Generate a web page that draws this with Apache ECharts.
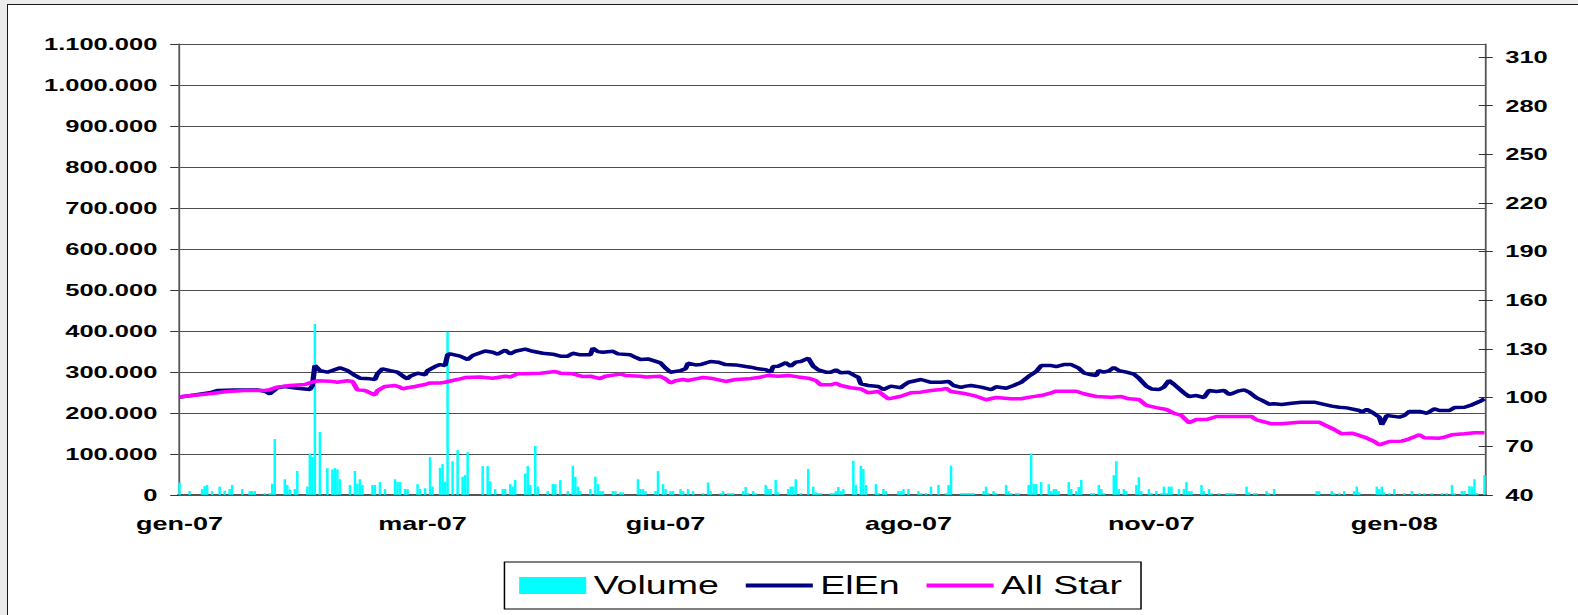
<!DOCTYPE html>
<html>
<head>
<meta charset="utf-8">
<title>ElEn - Volume</title>
<script src="https://cdn.jsdelivr.net/npm/echarts@6/dist/echarts.min.js"></script>
<style>
  html, body { margin: 0; padding: 0; width: 1578px; height: 615px; overflow: hidden; background: #ececec; }
  #frame { position: absolute; left: 7px; top: 4px; width: 1600px; height: 640px; background: #fff; border: 1px solid #1a1a1a; }
  /* the original picture is stretched sideways, so the chart is drawn narrow and widened */
  #main { position: absolute; left: 0; top: 0; width: 1052px; height: 615px; transform: scaleX(1.5); transform-origin: 0 0; }
</style>
</head>
<body>
<div id="frame"></div>
<div id="main"></div>
<script>
// x axis: trading days, a label every 97 days
const tickLabels = ['gen-07', 'mar-07', 'giu-07', 'ago-07', 'nov-07', 'gen-08'];
const dayCount = 522;
const labelStep = 97;

// right axis ticks
const rightTicks = [40, 70, 100, 130, 160, 190, 220, 250, 280, 310];

// Volume (left axis), day index -> value
const volumeDays = [0,4,9,10,11,13,16,18,20,21,25,28,29,30,34,36,37,38,42,43,44,46,47,51,52,53,54,56,59,61,62,63,64,68,70,71,72,73,77,78,80,82,86,87,88,90,91,95,96,98,100,101,
  104,105,106,107,109,111,113,114,115,121,123,124,126,129,130,132,133,134,138,139,140,142,143,147,149,150,152,155,157,158,159,160,164,166,167,168,169,173,174,176,177,183,184,185,186,190,191,193,194,196,197,200,201,203,205,209,
  211,212,216,217,219,220,221,225,226,227,229,230,234,235,236,238,239,243,244,245,246,248,251,253,254,255,256,260,261,262,263,264,265,269,270,272,273,274,278,279,281,282,287,288,289,291,295,296,298,300,303,306,307,308,312,
  313,314,315,316,317,321,322,323,325,326,330,331,332,334,335,339,340,341,342,344,347,348,349,350,351,355,356,358,359,360,364,365,367,368,369,373,374,375,377,378,382,383,384,387,388,390,392,393,394,395,396,399,401,402,403,404,408,409,411,412,415,418,
  419,420,421,426,427,429,430,434,435,437,454,455,460,461,463,465,469,470,471,478,479,480,481,483,485,489,492,495,497,500,504,506,508,509,512,513,515,516,517,518,521];
const volume = [30000,9000,14000,21000,24000,9000,20000,10000,14000,24000,14000,9000,9000,9000,4000,4000,27000,136000,38000,24000,13000,14000,58000,20000,101000,93000,417000,153000,65000,62000,65000,62000,38000,24000,58000,27000,38000,24000,24000,24000,31000,14000,38000,31000,31000,14000,14000,26000,14000,16000,92000,20000,
  66000,75000,32000,398000,82000,109000,44000,48000,104000,70000,70000,33000,14000,14000,14000,26000,20000,36000,52000,70000,24000,119000,20000,9000,26000,26000,36000,9000,71000,44000,20000,9000,14000,44000,26000,9000,9000,9000,9000,6000,6000,38000,14000,14000,9000,9000,58000,26000,14000,9000,9000,14000,9000,14000,9000,4000,
  30000,9000,4000,9000,4000,4000,4000,9000,19000,4000,9000,4000,24000,14000,14000,36000,6000,14000,20000,20000,38000,4000,63000,20000,6000,4000,4000,4000,4000,9000,19000,9000,14000,83000,24000,71000,63000,24000,26000,4000,14000,9000,9000,9000,14000,14000,9000,4000,4000,20000,24000,4000,24000,71000,4000,
  4000,4000,4000,4000,4000,9000,20000,4000,9000,4000,24000,9000,4000,4000,4000,24000,101000,26000,26000,31000,26000,9000,14000,14000,9000,31000,14000,9000,19000,36000,4000,4000,24000,14000,4000,48000,82000,14000,14000,9000,24000,43000,9000,14000,4000,9000,4000,20000,4000,20000,20000,14000,14000,31000,9000,9000,24000,9000,14000,4000,4000,4000,
  4000,4000,4000,20000,6000,4000,4000,9000,4000,14000,9000,9000,9000,4000,4000,9000,9000,20000,6000,20000,14000,20000,6000,4000,14000,4000,9000,4000,4000,4000,4000,4000,24000,4000,9000,9000,21000,20000,38000,4000,48000];

// ElEn (right axis)
const eienDays = [0,1,6,12,15,22,31,34,36,39,42,47,52,53,54,56,59,64,67,70,72,76,78,79,81,84,87,90,91,92,95,98,99,102,104,106,107,108,112,115,
  117,122,125,127,130,132,134,138,141,145,149,152,155,157,160,164,165,167,169,173,175,180,182,184,187,192,194,196,200,202,203,206,208,212,215,218,222,226,228,231,
  234,236,237,239,242,244,246,248,251,253,255,258,260,262,264,267,270,271,272,275,279,281,284,288,289,291,296,300,304,307,309,312,314,316,320,324,326,330,333,336,
  339,342,344,348,350,353,356,359,361,364,366,367,369,371,373,375,378,381,383,386,388,391,393,395,397,401,403,406,409,411,414,417,419,420,423,425,427,430,432,435,
  437,440,444,448,453,456,460,463,466,471,472,474,476,479,480,482,484,487,489,491,495,498,501,503,507,509,513,516,519,521];
const eien = [100.0,100.5,101.5,102.9,104.3,104.7,104.7,103.9,102.3,106.0,106.8,105.7,104.9,107.4,119.7,116.6,115.6,118.3,116.6,113.6,111.9,111.5,111.1,114.6,117.7,116.6,115.6,112.3,111.5,113.1,115.0,114.0,116.6,119.1,120.3,119.7,126.3,126.9,125.5,123.4,
  125.9,128.7,127.9,126.7,129.2,126.9,128.5,129.8,128.5,127.3,126.7,125.5,125.5,127.3,126.3,126.3,130.4,128.3,127.9,128.5,126.9,126.3,124.8,123.4,123.8,121.4,118.1,115.6,116.6,117.7,121.1,120.1,120.3,122.2,121.8,120.3,120.1,119.1,118.7,117.7,
  117.2,115.6,119.1,119.3,121.4,119.3,121.8,122.2,124.2,119.3,117.0,115.6,115.6,117.0,115.2,115.6,113.1,112.5,108.4,107.4,106.8,104.9,107.0,106.0,107.4,109.4,111.1,109.4,109.4,109.9,107.4,106.2,107.0,107.4,106.4,104.9,106.6,105.7,107.4,109.4,
  113.1,116.0,119.7,119.7,119.1,120.3,120.3,118.1,115.2,114.0,113.6,116.6,115.6,116.4,118.5,116.6,115.6,114.4,111.9,107.0,105.3,104.9,106.4,110.5,108.2,102.9,100.6,101.2,100.0,104.3,103.7,104.3,102.0,102.3,104.1,104.7,103.3,99.8,98.4,95.9,
  96.1,95.7,96.5,97.1,97.1,96.1,94.7,94.0,93.6,92.0,91.0,92.6,91.0,87.9,83.2,88.9,88.5,87.9,88.9,91.4,91.4,90.3,93.0,92.0,92.0,93.8,94.0,95.5,97.5,99.2];

// All Star (right axis)
const starDays = [0,1,12,19,26,34,36,39,44,50,52,55,60,63,67,69,71,74,76,78,79,82,86,88,89,91,94,98,100,104,
  106,109,112,114,120,125,130,132,135,138,144,150,152,157,161,164,168,170,176,178,184,186,192,194,196,198,201,203,206,209,
  212,218,222,227,231,235,239,243,247,251,254,256,260,262,264,268,272,275,279,283,288,292,296,300,304,306,308,314,318,322,
  326,332,336,340,344,348,350,358,361,366,372,376,379,383,386,390,394,397,400,403,406,410,414,419,428,430,436,440,447,455,
  457,461,464,468,471,473,477,479,483,488,491,495,497,503,505,508,513,517,521];
const allStar = [100.0,100.6,102.3,103.7,104.3,104.3,104.9,106.4,107.4,108.0,109.0,110.3,110.1,109.4,110.3,109.9,104.7,104.3,102.9,101.6,104.3,106.8,107.4,106.4,105.3,106.0,106.8,108.0,109.0,109.0,
  109.4,110.5,111.5,112.3,112.7,111.9,113.1,112.7,114.6,114.6,115.0,116.0,115.0,114.6,112.9,113.1,111.7,113.1,114.4,113.6,113.1,112.7,113.1,111.5,109.0,110.3,111.1,110.5,111.5,112.3,
  111.9,109.9,111.1,111.5,112.3,113.6,113.1,113.6,112.7,111.9,110.5,107.8,107.8,108.8,107.4,106.0,105.3,102.9,103.7,99.2,100.8,102.9,103.3,104.3,104.9,105.7,103.7,102.3,100.8,98.6,
  100.0,99.2,99.2,100.4,101.2,102.9,103.9,103.9,102.3,100.6,100.2,100.6,99.2,98.8,95.1,93.8,92.6,90.3,88.9,84.4,86.4,86.4,88.3,88.3,88.3,86.2,83.8,83.8,84.8,84.8,
  83.2,80.3,77.6,78.0,76.6,75.6,72.9,70.8,72.9,73.1,74.5,77.0,75.2,74.9,75.6,77.0,77.6,78.2,78.2];

const categories = Array.from({ length: dayCount }, (_, i) => (i % labelStep === 0 ? tickLabels[i / labelStep] : ''));

function itNumber(v) {
  return String(v).replace(/\B(?=(\d{3})+(?!\d))/g, '.');
}

const labelFont = { fontFamily: 'Liberation Sans', fontWeight: 'bold', fontSize: 17, color: '#000' };

const chart = echarts.init(document.getElementById('main'), null, { renderer: 'svg' });

const option = {
  animation: false,
  grid: { left: 118.9, right: 61.5, top: 44, bottom: 120.2 },
  legend: {
    left: 336.3,
    top: 562,
    orient: 'horizontal',
    padding: [11, 12.7, 11, 9.8],
    borderColor: '#000',
    borderWidth: 1,
    itemWidth: 44.7,
    itemHeight: 17,
    itemGap: 18,
    selectedMode: false,
    textStyle: { fontFamily: 'Liberation Sans', fontSize: 25, color: '#000' },
    data: [
      { name: 'Volume', icon: 'rect' },
      { name: 'ElEn', icon: 'path://M0,0H45V4H0Z' },
      { name: 'All Star', icon: 'path://M0,0H45V4H0Z' }
    ]
  },
  xAxis: {
    type: 'category',
    data: categories,
    boundaryGap: true,
    axisLine: { lineStyle: { color: '#555', width: 2 } },
    axisTick: { interval: labelStep - 1, length: 5, lineStyle: { color: '#222', width: 1 } },
    axisLabel: Object.assign({ interval: labelStep - 1, margin: 20, showMinLabel: true }, labelFont, { fontSize: 18 }),
    splitLine: { show: false }
  },
  yAxis: [
    {
      type: 'value',
      position: 'left',
      min: 0,
      max: 1100000,
      interval: 100000,
      axisLine: { show: true, lineStyle: { color: '#555', width: 1.2 } },
      axisTick: { show: true, length: 5.4, lineStyle: { color: '#333' } },
      axisLabel: Object.assign({ margin: 14, formatter: itNumber }, labelFont),
      splitLine: { show: true, lineStyle: { color: '#4d4d4d', width: 1 } }
    },
    {
      type: 'value',
      position: 'right',
      min: 40,
      max: 318,
      axisLine: { show: true, lineStyle: { color: '#555', width: 1.2 } },
      axisTick: { show: true, length: 4.7, customValues: rightTicks, lineStyle: { color: '#333' } },
      axisLabel: Object.assign({ margin: 13, customValues: rightTicks }, labelFont),
      splitLine: { show: false }
    },
    {
      type: 'value',
      position: 'right',
      min: 40,
      max: 318,
      axisLine: { show: false },
      axisTick: { show: true, inside: true, length: 4.7, customValues: rightTicks, lineStyle: { color: '#333' } },
      axisLabel: { show: false },
      splitLine: { show: false }
    }
  ],
  series: [
    {
      name: 'Volume',
      type: 'bar',
      yAxisIndex: 0,
      barWidth: '100%',
      itemStyle: { color: '#00ffff' },
      data: volumeDays.map((d, i) => [d, volume[i]])
    },
    {
      name: 'ElEn',
      type: 'line',
      yAxisIndex: 1,
      symbol: 'none',
      itemStyle: { color: '#000080' },
      lineStyle: { color: '#000080', width: 3.5 },
      data: eienDays.map((d, i) => [d, eien[i]])
    },
    {
      name: 'All Star',
      type: 'line',
      yAxisIndex: 1,
      symbol: 'none',
      itemStyle: { color: '#ff00ff' },
      lineStyle: { color: '#ff00ff', width: 3.5 },
      data: starDays.map((d, i) => [d, allStar[i]])
    }
  ]
};

chart.setOption(option);
</script>
</body>
</html>
